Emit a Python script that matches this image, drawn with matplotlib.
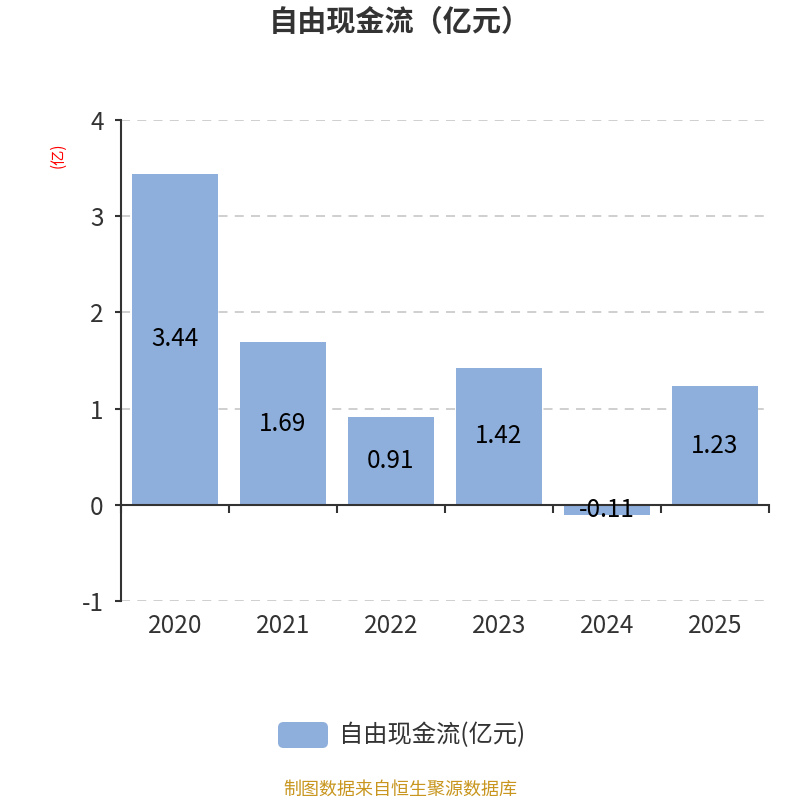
import matplotlib
matplotlib.use("Agg")
import matplotlib.pyplot as plt
from matplotlib.patches import FancyBboxPatch

plt.rcParams['font.family'] = ['Noto Sans CJK SC', 'DejaVu Sans']

years = ["2020", "2021", "2022", "2023", "2024", "2025"]
values = [3.44, 1.69, 0.91, 1.42, -0.11, 1.23]
yticks = [-1, 0, 1, 2, 3, 4]
title = "自由现金流（亿元）"
series_name = "自由现金流(亿元)"
unit_label = "(亿)"
source = "制图数据来自恒生聚源数据库"

bar_color = "#8eaedb"
text_color = "#333333"

fig = plt.figure(figsize=(8, 8), dpi=100)
ax = fig.add_axes([0.15125, 0.24875, 0.81, 0.60125])

x = list(range(len(years)))
ax.bar(x, values, width=0.8, color=bar_color, zorder=3)
for xi, v in zip(x, values):
    ax.text(xi, v / 2, f"{v:.2f}", ha="center", va="center", fontsize=17.5,
            color="black", zorder=6)

ax.set_xlim(-0.5, len(years) - 0.5)
ax.set_ylim(-1, 4)
ax.set_yticks(yticks)
ax.set_yticklabels([str(t) for t in yticks], fontsize=17.5, color=text_color)
for t in yticks:
    if t != 0:
        ax.axhline(t, color="#cccccc", linestyle=(0, (5, 4)), linewidth=1.3, zorder=1)

ax.spines["top"].set_visible(False)
ax.spines["right"].set_visible(False)
ax.spines["left"].set_color(text_color)
ax.spines["left"].set_linewidth(1.5)
ax.spines["bottom"].set_position(("data", 0))
ax.spines["bottom"].set_color(text_color)
ax.spines["bottom"].set_linewidth(1.5)
ax.spines["bottom"].set_zorder(5)

ax.tick_params(axis="y", direction="out", length=4.5, width=1.5, color=text_color, pad=8)
ax.set_xticks([i - 0.5 for i in range(len(years) + 1)])
ax.set_xticklabels([])
ax.tick_params(axis="x", direction="out", length=6, width=1.5, color=text_color)

for xi, yr in zip(x, years):
    ax.annotate(yr, xy=(xi, -1), xytext=(0, -18), textcoords="offset points",
                ha="center", va="center", fontsize=17.5, color=text_color)

fig.text(0.0725, 0.806, unit_label, rotation=90, color="red", fontsize=11,
         ha="center", va="center")

fig.text(0.5, 0.972, title, ha="center", va="center", fontsize=21,
         fontweight="bold", color=text_color)

# legend
patch = FancyBboxPatch((0.3475, 0.065), 0.0625, 0.0325,
                       boxstyle="round,pad=0,rounding_size=0.007",
                       transform=fig.transFigure, facecolor=bar_color,
                       edgecolor="none")
fig.patches.append(patch)
fig.text(0.4235, 0.0815, series_name, ha="left", va="center", fontsize=17.5,
         color=text_color)

fig.text(0.5, 0.0135, source, ha="center", va="center", fontsize=13,
         color="#c8961e")

fig.savefig("out.png", dpi=100)
